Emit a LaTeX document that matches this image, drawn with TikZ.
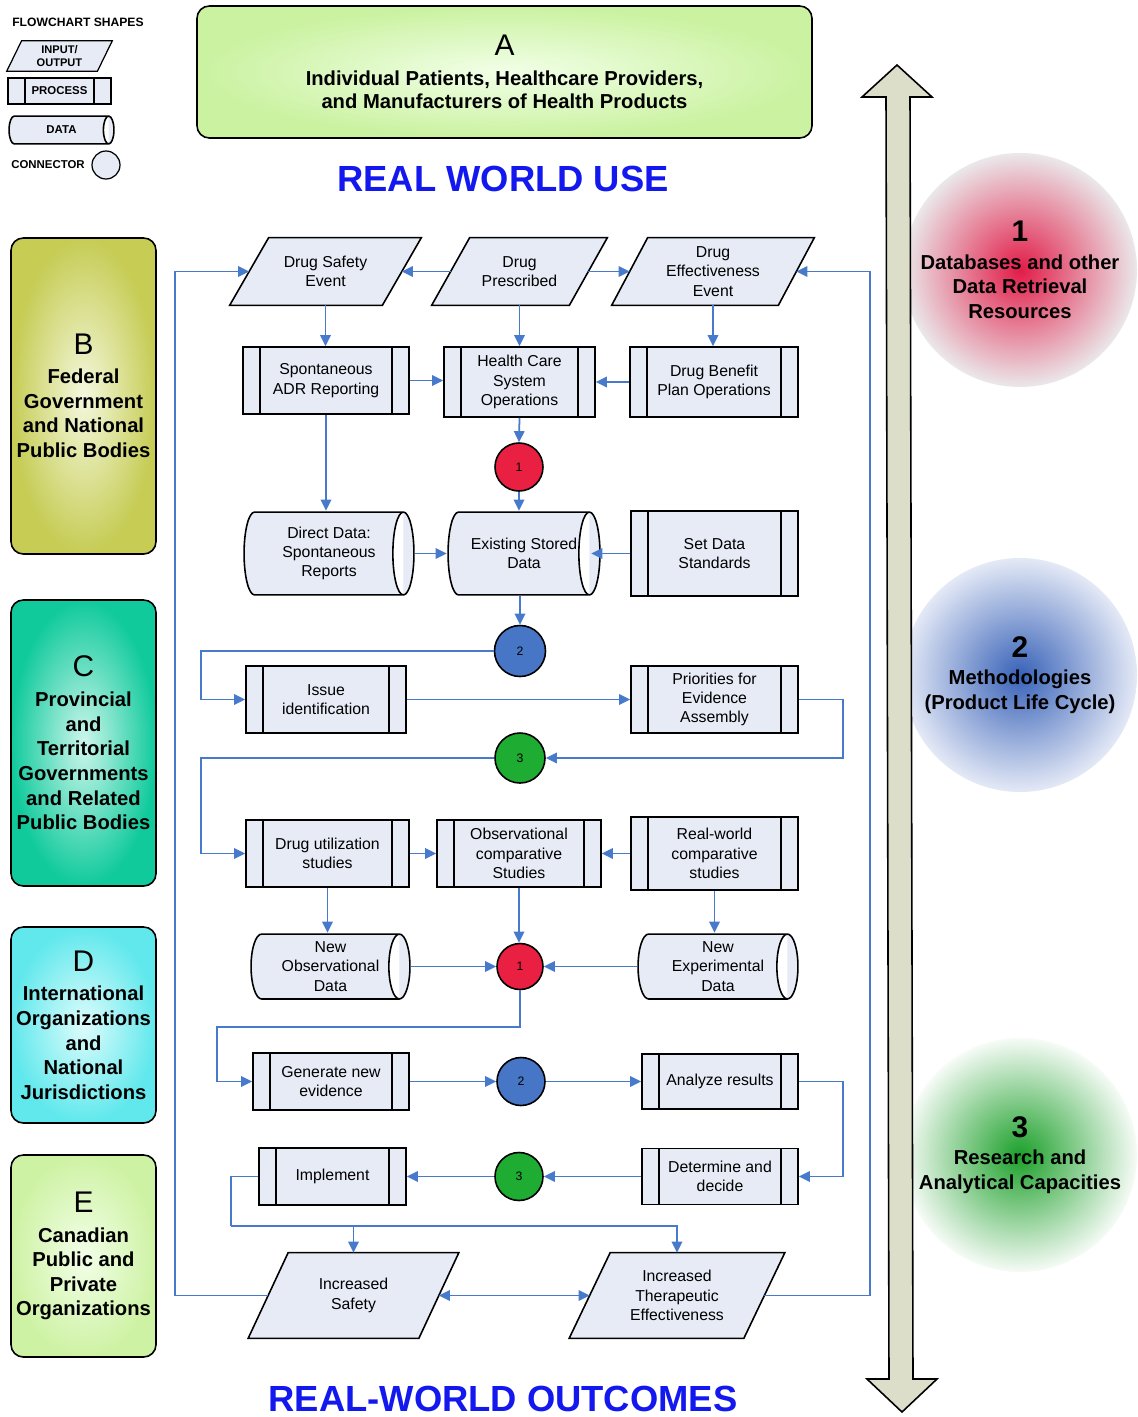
\documentclass[tikz,border=0pt]{standalone}
\usepackage{fontspec}
\setmainfont{Liberation Sans}
\usetikzlibrary{shapes.geometric,arrows.meta,calc}
\pgfdeclarelayer{bg}
\pgfsetlayers{bg,main}
\newlength\px
\setlength\px{0.02cm}
\definecolor{flow}{RGB}{72,122,204}
\definecolor{boxfill}{RGB}{230,235,246}
\definecolor{conred}{RGB}{234,32,66}
\definecolor{conblue}{RGB}{72,118,198}
\definecolor{congreen}{RGB}{30,172,50}
\definecolor{shaftfill}{RGB}{220,222,202}
\definecolor{titleblue}{RGB}{18,24,238}
\definecolor{aout}{RGB}{202,242,160}
\definecolor{ain}{RGB}{242,255,232}
\definecolor{bout}{RGB}{198,204,84}
\definecolor{bin}{RGB}{244,248,222}
\definecolor{cout}{RGB}{16,202,156}
\definecolor{cin}{RGB}{205,246,236}
\definecolor{dout}{RGB}{96,232,236}
\definecolor{din}{RGB}{222,252,252}
\definecolor{eout}{RGB}{206,242,164}
\definecolor{ein}{RGB}{242,255,232}
\definecolor{r1in}{RGB}{226,28,72}
\definecolor{r1out}{RGB}{234,232,234}
\definecolor{r2in}{RGB}{56,98,184}
\definecolor{r2out}{RGB}{228,233,246}
\definecolor{r3in}{RGB}{28,160,42}
\definecolor{r3out}{RGB}{246,251,246}
\newcommand\ioshape[3]{% node name, half slant (px), line width
  \begin{pgfonlayer}{bg}
  \draw[line width=#3, fill=boxfill]
    ([xshift=-#2\px]#1.south west) -- ([xshift=#2\px]#1.north west) --
    ([xshift=#2\px]#1.north east) -- ([xshift=-#2\px]#1.south east) -- cycle;
  \end{pgfonlayer}}
\tikzset{
  flowline/.style={draw=flow, line width=1pt},
  flowarrow/.style={flowline, -{Triangle[length=6.3pt,width=6pt]}},
  flowdbl/.style={flowline, {Triangle[length=6.3pt,width=6pt]}-{Triangle[length=6.3pt,width=6pt]}},
  flowtext/.style={font=\fontsize{9}{11}\selectfont, align=center, inner sep=0pt},
  proc/.style={flowtext, rectangle, draw, line width=0.9pt, fill=boxfill,
    path picture={\draw[line width=0.9pt]
      ([xshift=17\px]path picture bounding box.north west) -- ([xshift=17\px]path picture bounding box.south west)
      ([xshift=-17\px]path picture bounding box.north east) -- ([xshift=-17\px]path picture bounding box.south east);}},
  io/.style={flowtext, rectangle},
  data rx/.store in=\datarx, data rx=6pt,
  datashape/.style={flowtext, rectangle, path picture={
    \draw[line width=0.9pt, fill=boxfill]
      let \p1=(path picture bounding box.south west), \p2=(path picture bounding box.north east),
          \n1={(\y2-\y1)/2-0.6pt} in
      (\x1+\datarx+0.6pt,\y2-0.6pt) -- (\x2-\datarx-0.6pt,\y2-0.6pt)
      arc[start angle=90,end angle=-90,x radius=\datarx,y radius={\n1*1pt}]
      -- (\x1+\datarx+0.6pt,\y1+0.6pt)
      arc[start angle=270,end angle=90,x radius=\datarx,y radius={\n1*1pt}]
      -- cycle
      (\x2-\datarx-0.6pt,\y2-0.6pt) arc[start angle=90,end angle=270,x radius=\datarx,y radius={\n1*1pt}];}},
  joint/.style={circle, draw, line width=0.9pt, inner sep=0pt, minimum size=#1, font=\fontsize{7}{8}\selectfont},
  orgbox/.style={draw, line width=0.9pt, rounded corners=7pt, align=center,
    font=\bfseries\fontsize{11.5}{14}\selectfont, inner sep=0pt, minimum width=145\px},
  bigcircle/.style={circle, inner sep=0pt, minimum size=234\px, align=center,
    font=\bfseries\fontsize{11.5}{14.2}\selectfont},
  legendtext/.style={font=\bfseries\fontsize{6.5}{7.8}\selectfont, align=center},
  titletext/.style={font=\bfseries\fontsize{20.7}{24}\selectfont, text=titleblue, inner sep=0pt}
}
\begin{document}
\begin{tikzpicture}[x=0.02cm, y=-0.02cm]
\useasboundingbox (0,0) rectangle (1137,1417);
\begin{pgfonlayer}{bg}
\fill[white] (0,0) rectangle (1137,1417);
\end{pgfonlayer}

% resource circles
\node[bigcircle, inner color=r1in, outer color=r1out] (r1) at (1020,270)
  {{\fontsize{17}{20}\selectfont 1}\\[1.5pt] Databases and other\\ Data Retrieval\\ Resources};
\node[bigcircle, inner color=r2in, outer color=r2out] (r2) at (1020,675)
  {{\fontsize{17}{20}\selectfont 2}\\[1.5pt] Methodologies\\ (Product Life Cycle)};
\node[bigcircle, inner color=r3in, outer color=r3out] (r3) at (1020,1155)
  {{\fontsize{17}{20}\selectfont 3}\\[1.5pt] Research and\\ Analytical Capacities};

% double arrow
\draw[fill=shaftfill, line width=0.9pt] (897,65) -- (932,97) -- (910,97) -- (913,1379) -- (937,1379)
  -- (902,1412) -- (867,1379) -- (889,1379) -- (886,97) -- (862,97) -- cycle;

% stakeholder boxes
\node[orgbox, minimum width=615\px, minimum height=132\px, inner color=ain, outer color=aout,
  font=\bfseries\fontsize{11.5}{13}\selectfont] (A) at (504.5,72)
  {{\mdseries\fontsize{17}{20}\selectfont A}\\[4pt] Individual Patients, Healthcare Providers,\\ and Manufacturers of Health Products};
\node[orgbox, minimum height=316\px, inner color=bin, outer color=bout] (B) at (83.5,396)
  {{\mdseries\fontsize{17}{20}\selectfont B}\\[2.5pt] Federal\\ Government\\ and National\\ Public Bodies};
\node[orgbox, minimum height=286\px, inner color=cin, outer color=cout] (C) at (83.5,743)
  {{\mdseries\fontsize{17}{20}\selectfont C}\\[3pt] Provincial\\ and\\ Territorial\\ Governments\\ and Related\\ Public Bodies};
\node[orgbox, minimum height=196\px, inner color=din, outer color=dout] (D) at (83.5,1025)
  {{\mdseries\fontsize{17}{20}\selectfont D}\\[3pt] International\\ Organizations\\ and\\ National\\ Jurisdictions};
\node[orgbox, minimum height=202\px, inner color=ein, outer color=eout] (E) at (83.5,1256)
  {{\mdseries\fontsize{17}{20}\selectfont E}\\[3pt] Canadian\\ Public and\\ Private\\ Organizations};

% titles
\node[titletext] (rwu) at (503,179) {REAL WORLD USE};
\node[titletext] (rwo) at (503,1399) {REAL-WORLD OUTCOMES};

% legend
\node[legendtext, font=\bfseries\fontsize{6.9}{8}\selectfont] (lgtitle) at (78,22) {FLOWCHART SHAPES};
\node[io, minimum width=90\px, minimum height=30\px,
  font=\bfseries\fontsize{6.3}{7.6}\selectfont] (lgio) at (59.5,56) {INPUT/\\OUTPUT};
\node[proc, minimum width=103\px, minimum height=26\px, line width=0.7pt,
  font=\bfseries\fontsize{6.5}{7.8}\selectfont] (lgproc) at (59.5,91) {PROCESS};
\node[datashape, data rx=3pt, minimum width=107\px, minimum height=30\px,
  font=\bfseries\fontsize{6.5}{7.8}\selectfont] (lgdata) at (61.5,130) {DATA};
\node[legendtext] (lgconntext) at (48,165) {CONNECTOR};
\node[joint=28\px, fill=boxfill, line width=0.7pt] (lgconn) at (106,165) {};

% flowchart nodes
\node[io, minimum width=152\px, minimum height=67\px] (DSE) at (325.5,271.5) {Drug Safety\\Event};
\node[io, minimum width=137\px, minimum height=67\px] (DP) at (519.5,271.5) {Drug\\Prescribed};
\node[io, minimum width=166\px, minimum height=67\px] (DEE) at (713,271.5) {Drug\\Effectiveness\\Event};

\node[proc, minimum width=166\px, minimum height=67\px] (SADR) at (326,380.5) {Spontaneous\\ADR Reporting};
\node[proc, minimum width=151\px, minimum height=70\px] (HCS) at (519.5,382) {Health Care\\System\\Operations};
\node[proc, minimum width=168\px, minimum height=70\px] (DBP) at (714,382) {Drug Benefit\\Plan Operations};

\node[joint=48\px, fill=conred] (c1a) at (519,467) {1};

\node[datashape, minimum width=172\px, minimum height=85\px] (DDS) at (329,553.5) {Direct Data:\\Spontaneous\\Reports};
\node[datashape, minimum width=154\px, minimum height=85\px] (ESD) at (524,553.5) {Existing Stored\\Data};
\node[proc, minimum width=167\px, minimum height=85\px] (SDS) at (714.5,553.5) {Set Data\\Standards};

\node[joint=51\px, fill=conblue] (c2a) at (520,651) {2};

\node[proc, minimum width=160\px, minimum height=67\px] (Issue) at (326,699.5) {Issue\\identification};
\node[proc, minimum width=167\px, minimum height=67\px] (Prio) at (714.5,699.5) {Priorities for\\Evidence\\Assembly};

\node[joint=50\px, fill=congreen] (c3a) at (520,758) {3};

\node[proc, minimum width=163\px, minimum height=67\px] (DUS) at (327.5,853.5) {Drug utilization\\studies};
\node[proc, minimum width=164\px, minimum height=67\px] (OCS) at (519,853.5) {Observational\\comparative\\Studies};
\node[proc, minimum width=167\px, minimum height=73\px] (RWC) at (714.5,853.5) {Real-world\\comparative\\studies};

\node[datashape, minimum width=161\px, minimum height=67\px] (NOD) at (330.5,966.5) {New\\Observational\\Data};
\node[joint=46\px, fill=conred] (c1b) at (520,966.5) {1};
\node[datashape, minimum width=162\px, minimum height=67\px] (NED) at (718,966.5) {New\\Experimental\\Data};

\node[proc, minimum width=156\px, minimum height=57\px] (GNE) at (331,1081.5) {Generate new\\evidence};
\node[joint=48\px, fill=conblue] (c2b) at (521,1081.5) {2};
\node[proc, minimum width=156\px, minimum height=55\px] (AR) at (720,1081.5) {Analyze results};

\node[proc, minimum width=147\px, minimum height=57\px] (IMP) at (332.5,1176.5) {Implement};
\node[joint=48\px, fill=congreen] (c3b) at (519,1176.5) {3};
\node[proc, minimum width=156\px, minimum height=56\px] (DAD) at (720,1176.5) {Determine and\\decide};

\node[io, minimum width=170\px, minimum height=85\px] (IS) at (353.5,1295.5) {Increased\\Safety};
\node[io, minimum width=174\px, minimum height=85\px] (IT) at (677,1295.5) {Increased\\Therapeutic\\Effectiveness};

% input/output outlines (drawn behind the texts)
\foreach \nm/\hs in {DSE/19.5, DP/19, DEE/18, IS/20, IT/20.5} {\ioshape{\nm}{\hs}{0.9pt}}
\ioshape{lgio}{7.5}{0.7pt}

% connectors
\draw[flowarrow] (DP.west) -- (DSE.east);
\draw[flowarrow] (DP.east) -- (DEE.west);
\draw[flowarrow] (DSE.south) -- (DSE.south |- SADR.north);
\draw[flowarrow] (DP.south) -- (DP.south |- HCS.north);
\draw[flowarrow] (DEE.south) -- (DEE.south |- DBP.north);
\draw[flowarrow] (SADR.east) -- (SADR.east -| HCS.west);
\draw[flowarrow] (DBP.west) -- (DBP.west -| HCS.east);
\draw[flowarrow] (HCS.south) -- (c1a.north);
\draw[flowarrow] (SADR.south) -- (SADR.south |- DDS.north);
\draw[flowarrow] (c1a.south) -- (c1a.south |- ESD.north);
\draw[flowarrow] (DDS.east) -- (DDS.east -| ESD.west);
\draw[flowarrow] (SDS.west) -- ([xshift=-10\px]ESD.east);
\draw[flowarrow] (c2a.north |- ESD.south) -- (c2a.north);
\draw[flowarrow] (c2a.west) -| ([xshift=-44\px]Issue.west) -- (Issue.west);
\draw[flowarrow] (Issue.east) -- (Prio.west);
\draw[flowarrow] (Prio.east) -- ++(44,0) |- (c3a.east);
\draw[flowarrow] (c3a.west) -| ([xshift=-44\px]DUS.west) -- (DUS.west);
\draw[flowarrow] (DUS.east) -- (OCS.west);
\draw[flowarrow] (RWC.west) -- (OCS.east);
\draw[flowarrow] (DUS.south) -- (DUS.south |- NOD.north);
\draw[flowarrow] (OCS.south) -- (OCS.south |- c1b.north);
\draw[flowarrow] (RWC.south) -- (RWC.south |- NED.north);
\draw[flowarrow] (NOD.east) -- (c1b.west);
\draw[flowarrow] (NED.west) -- (c1b.east);
\draw[flowarrow] (c1b.south) -- ++(0,37) -| ([xshift=-35\px]GNE.west) -- (GNE.west);
\draw[flowarrow] (GNE.east) -- (c2b.west);
\draw[flowarrow] (c2b.east) -- (AR.west);
\draw[flowarrow] (AR.east) -- ++(44,0) |- (DAD.east);
\draw[flowarrow] (DAD.west) -- (c3b.east);
\draw[flowarrow] (c3b.west) -- (IMP.east);
\coordinate (jn) at (231,1226);
\draw[flowline] (IMP.west) -| (jn);
\draw[flowarrow] (jn) -| (IT.north);
\draw[flowarrow] (jn -| IS.north) -- (IS.north);
\draw[flowdbl] (IS.east) -- (IT.west);
\draw[flowarrow] (IS.west) -- ++(-93,0) |- (DSE.west);
\draw[flowarrow] (IT.east) -- ++(106,0) |- (DEE.east);
\end{tikzpicture}
\end{document}
